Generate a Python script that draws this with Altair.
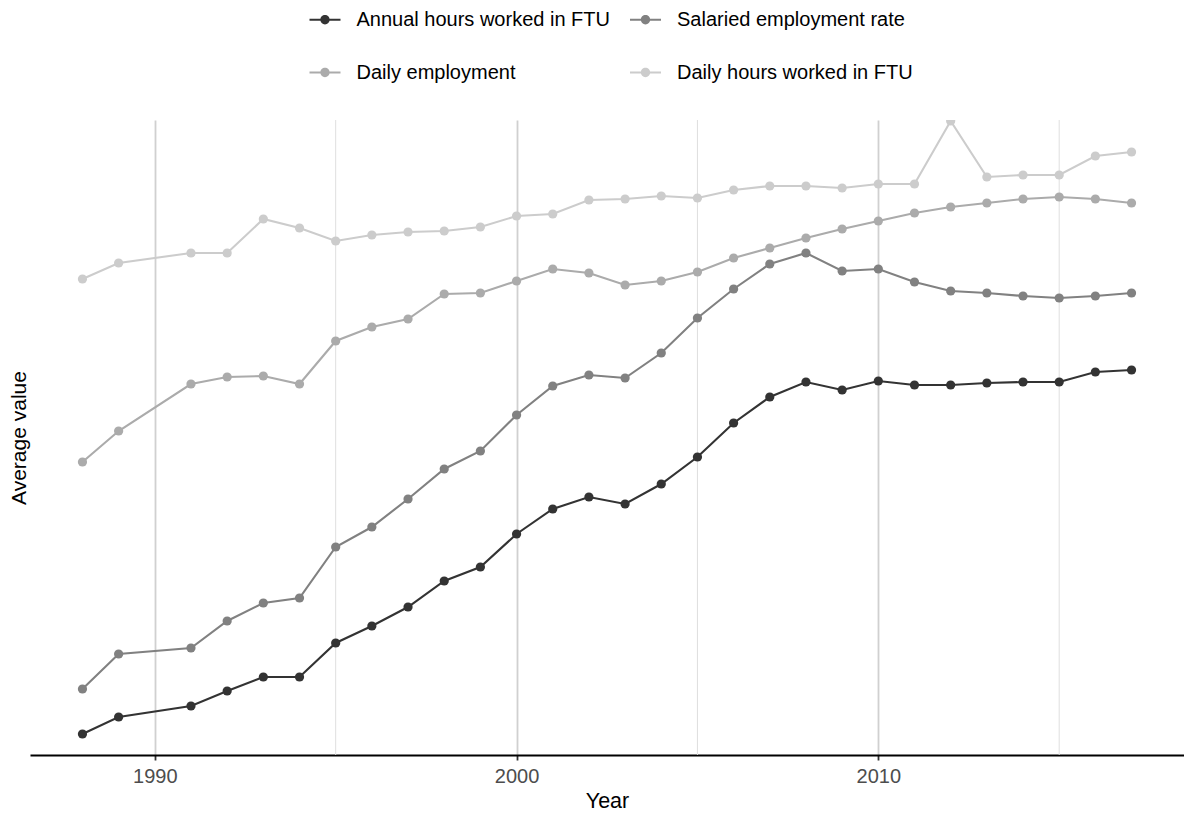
import altair as alt
import pandas as pd

years = [1988, 1989, 1991, 1992, 1993, 1994, 1995, 1996, 1997, 1998, 1999, 2000,
         2001, 2002, 2003, 2004, 2005, 2006, 2007, 2008, 2009, 2010, 2011, 2012,
         2013, 2014, 2015, 2016, 2017]

series_names = ["Annual hours worked in FTU", "Salaried employment rate",
                "Daily employment", "Daily hours worked in FTU"]
series_colors = ["#333333", "#818181", "#ababab", "#cccccc"]

annual_hours = [21, 38, 49, 64, 78, 78, 112, 129, 148, 174, 188, 221, 246, 258, 251,
                271, 298, 332, 358, 373, 365, 374, 370, 370, 372, 373, 373, 383, 385]
salaried_rate = [66, 101, 107, 134, 152, 157, 208, 228, 256, 286, 304, 340, 369, 380, 377,
                 402, 437, 466, 491, 502, 484, 486, 473, 464, 462, 459, 457, 459, 462]
daily_employment = [293, 324, 371, 378, 379, 371, 414, 428, 436, 461, 462, 474, 486, 482, 470,
                    474, 483, 497, 507, 517, 526, 534, 542, 548, 552, 556, 558, 556, 552]
daily_hours = [476, 492, 502, 502, 536, 527, 514, 520, 523, 524, 528, 539, 541, 555, 556,
               559, 557, 565, 569, 569, 567, 571, 571, 634, 578, 580, 580, 599, 603]

major_ticks = [1990, 2000, 2010]
minor_grid_years = [1995, 2005, 2015]

rows = []
for name, vals in zip(series_names, [annual_hours, salaried_rate, daily_employment, daily_hours]):
    for yr, v in zip(years, vals):
        rows.append({"year": yr, "value": v, "series": name})
df = pd.DataFrame(rows)
grid_df = pd.DataFrame({"year": minor_grid_years})

x_scale = alt.Scale(domain=[1986.55, 2018.45], nice=False, zero=False)
y_scale = alt.Scale(domain=[0, 635], nice=False, zero=False)

x_axis = alt.Axis(values=major_ticks, format="d", title="Year", grid=True,
                  gridColor="#d0d0d0", gridWidth=1.8,
                  domainColor="black", domainWidth=2,
                  tickColor="#333333", tickWidth=1.8, tickSize=5,
                  labelColor="#4d4d4d", labelFontSize=20, labelPadding=6,
                  titleFontSize=21.5, titleColor="black", titleFontWeight="normal",
                  titlePadding=4)
y_axis = alt.Axis(labels=False, ticks=False, domain=False, grid=False,
                  title="Average value", titleFontSize=21, titleColor="black",
                  titleFontWeight="normal", titlePadding=1)

X = alt.X("year:Q", scale=x_scale, axis=x_axis)
Y = alt.Y("value:Q", scale=y_scale, axis=y_axis)

legend_symbol = ("M-1,-0.07H1V0.07H-1Z "
                 "M0.3,0A0.3,0.3 0 1,1 -0.3,0A0.3,0.3 0 1,1 0.3,0Z")

minor_grid = alt.Chart(grid_df).mark_rule(color="#dfdfdf", strokeWidth=1).encode(x=X)

lines = alt.Chart(df).mark_line(strokeWidth=2.1, clip=True).encode(
    x=X, y=Y,
    stroke=alt.Stroke("series:N", scale=alt.Scale(domain=series_names, range=series_colors),
                      legend=None),
)

points = alt.Chart(df).mark_point(filled=True, size=85, opacity=1, clip=True).encode(
    x=X, y=Y,
    fill=alt.Fill("series:N", sort=series_names, scale=alt.Scale(range=series_colors),
                  legend=alt.Legend(title=None, orient="none", legendX=279.5, legendY=-116,
                                    direction="horizontal", columns=2,
                                    symbolType=legend_symbol, symbolSize=961,
                                    symbolStrokeWidth=0, symbolOpacity=1,
                                    labelFontSize=20, labelColor="black", labelOffset=16,
                                    rowPadding=27, columnPadding=19.5, labelLimit=500)),
)

chart = alt.layer(minor_grid, lines, points).properties(
    width=1154, height=635,
    autosize=alt.AutoSizeParams(type="none"),
    padding={"left": 22, "top": 112, "right": 0, "bottom": 57},
).configure(font="Liberation Sans").configure_view(stroke=None)

chart.save("out.html", embed_options={"renderer": "svg", "actions": False})
